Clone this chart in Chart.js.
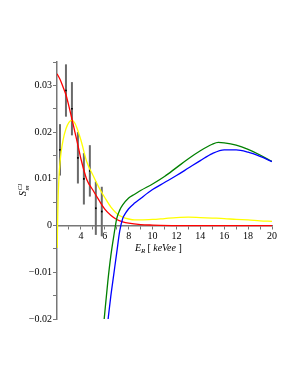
<!DOCTYPE html>
<html>
<head>
<meta charset="utf-8">
<script src="https://cdn.jsdelivr.net/npm/chart.js@4.4.1/dist/chart.umd.min.js"></script>
<style>
  html, body { margin: 0; padding: 0; background: #fff; }
</style>
</head>
<body>
<canvas id="chart" width="298" height="385"></canvas>
<script>
// measured points with error bars
const binX = [2.25, 2.75, 3.25, 3.75, 4.25, 4.75, 5.25, 5.75];
const binY = [0.0162, 0.0289, 0.0250, 0.0145, 0.0100, 0.0117, 0.0037, 0.0030];
const binErr = [0.0055, 0.0056, 0.0057, 0.0055, 0.0055, 0.0055, 0.0057, 0.0053];

// red curve
const redX = [2.0, 2.25, 2.5, 2.75, 3.0, 3.25, 3.5, 3.75, 4.0, 4.5, 5.0, 5.5, 6.0, 6.5, 7.0, 7.5, 8.0, 9.0, 10, 12, 14, 16, 18, 20];
const redY = [0.0325, 0.0313, 0.0297, 0.0280, 0.0255, 0.0228, 0.0200, 0.0172, 0.0143, 0.0098, 0.0076, 0.0055, 0.0035, 0.0022, 0.0013, 0.0008, 0.0005, 0.0002, 0.0001, 0, 0, 0, 0, 0];

// yellow curve
const yellowX = [2.02, 2.06, 2.1, 2.2, 2.35, 2.5, 2.75, 3.0, 3.25, 3.5, 3.75, 4.0, 4.5, 5.0, 5.5, 6.0, 6.5, 7.0, 7.5, 8.0, 8.5, 9.0, 10, 11, 12, 13, 14, 15, 16, 17, 18, 19, 20];
const yellowY = [-0.0048, 0.002, 0.0065, 0.0118, 0.0158, 0.0182, 0.0207, 0.0221, 0.0225, 0.0219, 0.0203, 0.0183, 0.0136, 0.0108, 0.0082, 0.0060, 0.0040, 0.0026, 0.0018, 0.0014, 0.0012, 0.0012, 0.0013, 0.0015, 0.0017, 0.0018, 0.0017, 0.0016, 0.0015, 0.0013, 0.0012, 0.0010, 0.0009];

// green curve
const greenX = [5.95, 6.25, 6.5, 6.75, 7.0, 7.25, 7.5, 8.0, 8.5, 9.0, 10, 11, 12, 13, 14, 15, 15.5, 16, 17, 18, 19, 20];
const greenY = [-0.0200, -0.0121, -0.0066, -0.0023, 0.0015, 0.0033, 0.0044, 0.0059, 0.0067, 0.0075, 0.0089, 0.0105, 0.0124, 0.0143, 0.0160, 0.0174, 0.0178, 0.0177, 0.0172, 0.0163, 0.0151, 0.0137];

// blue curve
const blueX = [6.28, 6.5, 6.75, 7.0, 7.25, 7.5, 7.75, 8.0, 8.5, 9.0, 10, 11, 12, 13, 14, 15, 16, 17, 18, 19, 20];
const blueY = [-0.0200, -0.0152, -0.0105, -0.0058, -0.0012, 0.0015, 0.0027, 0.0036, 0.0048, 0.0058, 0.0077, 0.0092, 0.0107, 0.0123, 0.0139, 0.0154, 0.0162, 0.0162, 0.0157, 0.0148, 0.0137];

// axis ticks
const xTickLabels = [4, 6, 8, 10, 12, 14, 16, 18, 20];
const yTickLabels = [-0.02, -0.01, 0, 0.01, 0.02, 0.03];

const toPts = (xs, ys) => xs.map((x, i) => ({ x: x, y: ys[i] }));

function curve(xs, ys, color, order) {
  return {
    data: toPts(xs, ys),
    showLine: true,
    borderColor: color,
    borderWidth: 1.3,
    pointRadius: 0,
    cubicInterpolationMode: 'monotone',
    order: order
  };
}

const datasets = [];
// error bars, one small line per bin
binX.forEach((x, i) => {
  datasets.push({
    data: [{ x: x, y: binY[i] - binErr[i] }, { x: x, y: binY[i] + binErr[i] }],
    showLine: true,
    borderColor: '#6a6a6a',
    borderWidth: 2,
    pointRadius: 0,
    order: 10
  });
});
datasets.push({
  data: toPts(binX, binY),
  showLine: false,
  pointStyle: 'rect',
  pointRadius: 1.2,
  backgroundColor: '#000',
  borderColor: '#000',
  borderWidth: 0,
  order: 9
});
datasets.push(curve(yellowX, yellowY, '#ffff00', 4));
datasets.push(curve(redX, redY, '#ff0000', 3));
datasets.push(curve(greenX, greenY, '#008000', 2));
datasets.push(curve(blueX, blueY, '#0000ff', 1));

const serif = 'Liberation Serif';

// axis titles with sub/superscripts
const titlesPlugin = {
  id: 'titles',
  afterDraw(chart) {
    const ctx = chart.ctx;
    ctx.save();
    ctx.fillStyle = '#000';
    ctx.textBaseline = 'alphabetic';
    ctx.textAlign = 'left';

    // x title: E_R [ keVee ]
    let x = 135, y = 251;
    ctx.font = 'italic 10px "' + serif + '"';
    ctx.fillText('E', x, y);
    x += ctx.measureText('E').width;
    ctx.font = 'italic 7px "' + serif + '"';
    ctx.fillText('R', x, y + 2);
    x += ctx.measureText('R').width + 2;
    ctx.font = '10px "' + serif + '"';
    ctx.fillText('[', x, y);
    x += ctx.measureText('[ ').width;
    ctx.font = 'italic 10px "' + serif + '"';
    ctx.fillText('keVee', x, y);
    x += ctx.measureText('keVee ').width;
    ctx.font = '10px "' + serif + '"';
    ctx.fillText(']', x, y);

    // y title: S_m^Cl, rotated
    ctx.translate(26, 196);
    ctx.rotate(-Math.PI / 2);
    ctx.font = 'italic 10px "' + serif + '"';
    ctx.fillText('S', 0, 0);
    const w = ctx.measureText('S').width + 0.5;
    ctx.font = 'italic 7px "' + serif + '"';
    ctx.fillText('Cl', w, -4.5);
    ctx.fillText('m', w, 2.5);
    ctx.restore();
  }
};

new Chart(document.getElementById('chart'), {
  type: 'scatter',
  data: { datasets: datasets },
  options: {
    responsive: false,
    animation: false,
    layout: { padding: { top: 62, right: 26, bottom: 66, left: 0 } },
    plugins: {
      legend: { display: false },
      tooltip: { enabled: false }
    },
    scales: {
      x: {
        type: 'linear',
        min: 2,
        max: 20,
        position: { y: 0 },
        border: { color: '#777', width: 1.5 },
        grid: { drawOnChartArea: false, tickLength: 3, color: '#777' },
        ticks: {
          stepSize: 1,
          padding: 2,
          maxRotation: 0,
          autoSkip: false,
          color: '#000',
          font: { family: serif, size: 10 },
          callback: v => xTickLabels.includes(v) ? String(v) : ''
        }
      },
      y: {
        type: 'linear',
        min: -0.02,
        max: 0.035,
        border: { color: '#777', width: 1.5 },
        grid: { drawOnChartArea: false, tickLength: 4, color: '#777' },
        afterFit: axis => { axis.width = 57; },
        ticks: {
          stepSize: 0.005,
          padding: 1,
          autoSkip: false,
          color: '#000',
          font: { family: serif, size: 10 },
          callback: v => {
            const r = Math.round(v * 1000) / 1000;
            if (!yTickLabels.some(t => Math.abs(t - r) < 1e-9)) return '';
            if (r === 0) return '0';
            return (r < 0 ? '\u2212' : '') + Math.abs(r).toFixed(2);
          }
        }
      }
    }
  },
  plugins: [titlesPlugin]
});
</script>
</body>
</html>
